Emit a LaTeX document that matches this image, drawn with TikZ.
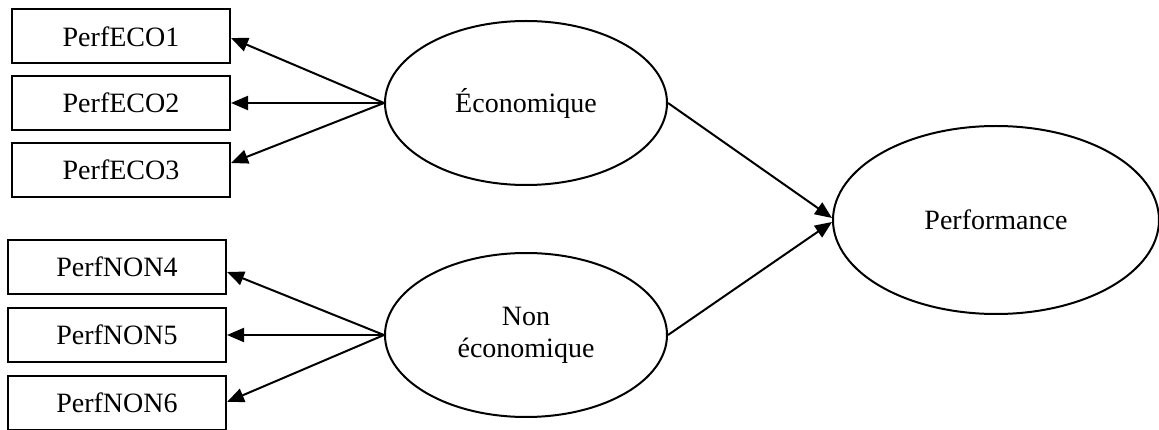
\documentclass[tikz,border=0pt]{standalone}
\usepackage{fontspec}
\setmainfont{Liberation Serif}
\usetikzlibrary{shapes.geometric,arrows.meta}
\begin{document}
\begin{tikzpicture}[x=1pt,y=-1pt,
  indbox/.style={draw,line width=2pt,rectangle,minimum width=218pt,minimum height=54pt,inner sep=0pt,font=\fontsize{28}{32}\selectfont},
  latent/.style={draw,line width=2pt,ellipse,inner sep=0pt,align=center,font=\fontsize{28}{32}\selectfont},
  link/.style={line width=2pt,-{Triangle[length=17pt,width=14pt]}}]
\useasboundingbox (0,0) rectangle (1159,430);
\node[indbox] (b1) at (121,36.5) {PerfECO1};
\node[indbox] (b2) at (121,103) {PerfECO2};
\node[indbox] (b3) at (121,170) {PerfECO3};
\node[indbox] (b4) at (117,267) {PerfNON4};
\node[indbox] (b5) at (117,335) {PerfNON5};
\node[indbox] (b6) at (117,403) {PerfNON6};
\node[latent,minimum width=282pt,minimum height=164pt] (eco) at (526,103) {Économique};
\node[latent,minimum width=282pt,minimum height=164pt] (non) at (526,335) {Non\\économique};
\node[latent,minimum width=326pt,minimum height=188pt] (perf) at (996,220) {Performance};
\draw[link] (eco.west) -- ([yshift=-1.5pt]b1.east);
\draw[link] (eco.west) -- (b2.east);
\draw[link] (eco.west) -- ([yshift=7pt]b3.east);
\draw[link] (non.west) -- ([yshift=-5pt]b4.east);
\draw[link] (non.west) -- (b5.east);
\draw[link] (non.west) -- ([yshift=1pt]b6.east);
\draw[link] (eco.east) -- ([yshift=2pt]perf.west);
\draw[link] (non.east) -- ([yshift=-2pt]perf.west);
\end{tikzpicture}
\end{document}
